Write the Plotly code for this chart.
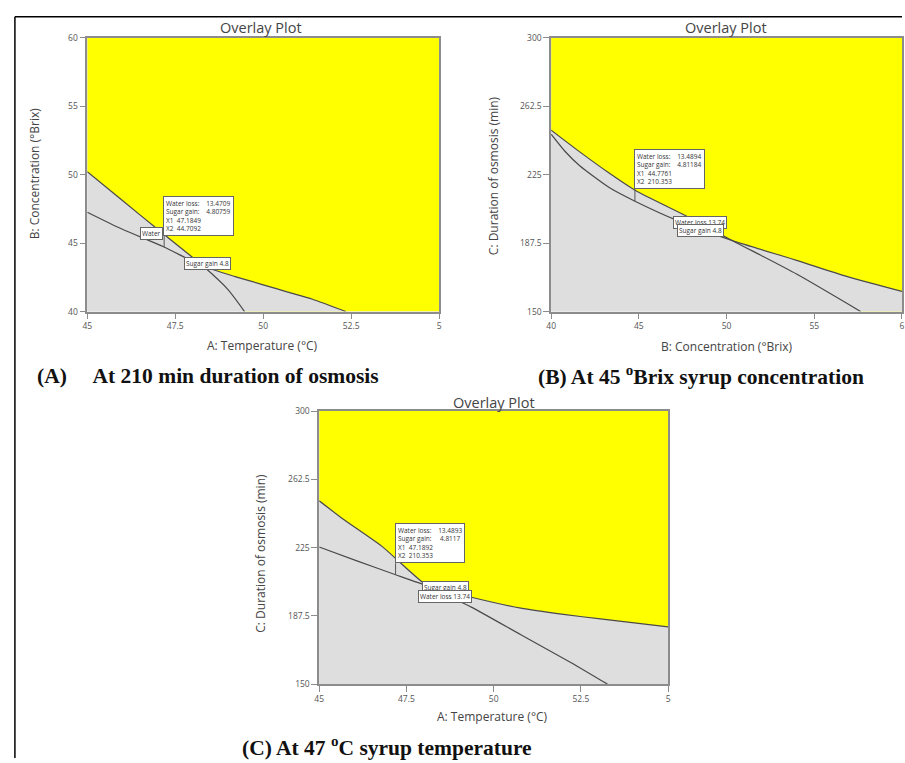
import plotly.graph_objects as go

W, H = 905, 763
FONT = "Open Sans"
SERIF = "Liberation Serif"
YELLOW = "#ffff00"
GRAY = "#dedede"
LINE = "#4a4a4a"
AXC = "#8c8c8c"

# ---------------- data ----------------
# Panel A : Temperature (x) vs Concentration (y), at 210 min
a_x_range = [45, 55]
a_y_range = [40, 60]
a_xticks = [45, 47.5, 50, 52.5, 55]
a_xticktext = ["45", "47.5", "50", "52.5", "5"]
a_yticks = [40, 45, 50, 55, 60]
a_sugar_x = [45, 46, 47, 48.3, 49, 49.47]
a_sugar_y = [50.2, 48.1, 46.0, 43.3, 41.6, 40.0]
a_water_x = [45, 46, 47.18, 48.3, 49.2, 50, 50.7, 51.4, 52.35]
a_water_y = [47.25, 46.0, 44.71, 43.3, 42.55, 41.95, 41.42, 40.9, 40.0]
a_point = (47.1849, 44.7092)
a_tip = ["Water loss:", "Sugar gain:", "X1", "X2"]
a_tipval = ["13.4709", "4.80759", "47.1849", "44.7092"]

# Panel B : Concentration (x) vs Duration (y), at 47 C
b_x_range = [40, 60]
b_y_range = [150, 300]
b_xticks = [40, 45, 50, 55, 60]
b_xticktext = ["40", "45", "50", "55", "6"]
b_yticks = [150, 187.5, 225, 262.5, 300]
b_sugar_x = [40, 41.63, 43.2, 44.78, 47.81, 50.34, 53.99, 57.64]
b_sugar_y = [249.3, 237.4, 226.5, 216.4, 201.8, 188.8, 170.5, 150.0]
b_water_x = [40, 40.8, 41.63, 43.31, 44.78, 47.25, 50.34, 53.99, 56.8, 60]
b_water_y = [247.1, 237.6, 229.8, 217.9, 210.4, 199.6, 188.8, 178.0, 169.4, 161.0]
b_point = (44.7761, 210.353)
b_tip = ["Water loss:", "Sugar gain:", "X1", "X2"]
b_tipval = ["13.4894", "4.81184", "44.7761", "210.353"]

# Panel C : Temperature (x) vs Duration (y), at 45 Brix
c_x_range = [45, 55]
c_y_range = [150, 300]
c_xticks = [45, 47.5, 50, 52.5, 55]
c_xticktext = ["45", "47.5", "50", "52.5", "5"]
c_yticks = [150, 187.5, 225, 262.5, 300]
c_sugar_x = [45, 45.66, 46.79, 48.08, 49.36, 50.78, 52.21, 53.26]
c_sugar_y = [250.7, 241.0, 225.8, 204.2, 192.3, 177.1, 161.9, 150.0]
c_water_x = [45, 46.08, 47.19, 48.08, 49.36, 50.78, 52.0, 53.06, 55]
c_water_y = [225.3, 217.7, 210.1, 204.2, 197.7, 191.7, 188.3, 185.8, 181.4]
c_point = (47.1892, 210.353)
c_tip = ["Water loss:", "Sugar gain:", "X1", "X2"]
c_tipval = ["13.4893", "4.8117", "47.1892", "210.353"]


def px(x):
    return x / W


def py(y):
    return 1 - y / H


fig = go.Figure()

panels = [
    dict(xa="x", ya="y", xr=a_x_range, yr=a_y_range,
         sx=a_sugar_x, sy=a_sugar_y, wx=a_water_x, wy=a_water_y),
    dict(xa="x2", ya="y2", xr=b_x_range, yr=b_y_range,
         sx=b_sugar_x, sy=b_sugar_y, wx=b_water_x, wy=b_water_y),
    dict(xa="x3", ya="y3", xr=c_x_range, yr=c_y_range,
         sx=c_sugar_x, sy=c_sugar_y, wx=c_water_x, wy=c_water_y),
]

for p in panels:
    x0, x1 = p["xr"]
    y0, y1 = p["yr"]
    # yellow region above sugar contour
    fig.add_trace(go.Scatter(
        x=p["sx"] + [x1, x1, x0], y=p["sy"] + [y0, y1, y1],
        fill="toself", fillcolor=YELLOW, mode="none", hoverinfo="skip",
        xaxis=p["xa"], yaxis=p["ya"], showlegend=False))
    # gray region below water contour
    fig.add_trace(go.Scatter(
        x=p["wx"] + [x1, x0], y=p["wy"] + [y0, y0],
        fill="toself", fillcolor=GRAY, mode="none", hoverinfo="skip",
        xaxis=p["xa"], yaxis=p["ya"], showlegend=False))
    for xs, ys in ((p["sx"], p["sy"]), (p["wx"], p["wy"])):
        fig.add_trace(go.Scatter(
            x=xs, y=ys, mode="lines",
            line=dict(color=LINE, width=1.2, shape="spline", smoothing=0.6),
            hoverinfo="skip", xaxis=p["xa"], yaxis=p["ya"], showlegend=False))

ax_common = dict(showgrid=False, zeroline=False, showline=True, linecolor=AXC,
                 linewidth=1.5, mirror=True, ticks="outside", ticklen=6,
                 tickcolor=AXC, tickwidth=1, ticklabeloverflow="allow",
                 tickfont=dict(size=8.5, color="#555555", family=FONT))

fig.update_layout(
    width=W, height=H, margin=dict(l=0, r=0, t=0, b=0),
    paper_bgcolor="white", plot_bgcolor=GRAY,
    xaxis=dict(domain=[px(83), px(438)], range=a_x_range, tickvals=a_xticks,
               ticktext=a_xticktext, anchor="y", **ax_common),
    yaxis=dict(domain=[py(310), py(32)], range=a_y_range, tickvals=a_yticks,
               anchor="x", **ax_common),
    xaxis2=dict(domain=[px(551), 1.0], range=b_x_range, tickvals=b_xticks,
                ticktext=b_xticktext, anchor="y2", **ax_common),
    yaxis2=dict(domain=[py(310), py(32)], range=b_y_range, tickvals=b_yticks,
                ticktext=[str(v) for v in b_yticks], anchor="x2", **ax_common),
    xaxis3=dict(domain=[px(317), px(669)], range=c_x_range, tickvals=c_xticks,
                ticktext=c_xticktext, anchor="y3", **ax_common),
    yaxis3=dict(domain=[py(688), py(411)], range=c_y_range, tickvals=c_yticks,
                ticktext=[str(v) for v in c_yticks], anchor="x3", **ax_common),
)

ann = []
shapes = []


def paper_text(text, x, y, size, color="#444444", family=FONT, angle=0,
               xanchor="center"):
    ann.append(dict(text=text, x=px(x), y=py(y), xref="paper", yref="paper",
                    showarrow=False, xanchor=xanchor, yanchor="middle",
                    textangle=angle, font=dict(size=size, color=color, family=family)))


# titles
for x, y in ((258, 22), (727, 22), (493, 402)):
    paper_text("Overlay Plot", x, y, 14.5, "#444444")
# axis titles
paper_text("A: Temperature (°C)", 260, 344, 12)
paper_text("B: Concentration (°Brix)", 728, 345, 12)
paper_text("A: Temperature (°C)", 492, 721, 12)
paper_text("B: Concentration (°Brix)", 30, 170, 12, angle=-90)
paper_text("C: Duration of osmosis (min)", 493, 172, 12, angle=-90)
paper_text("C: Duration of osmosis (min)", 258, 555, 12, angle=-90)
# captions
paper_text("<b>(A)\u00a0\u00a0\u00a0\u00a0 At 210 min duration of osmosis</b>", 30, 375, 21.5,
           "#111111", SERIF, xanchor="left")
paper_text("<b>(B) At 45 <sup>o</sup>Brix syrup concentration</b>", 702, 375, 21.5,
           "#111111", SERIF)
paper_text("<b>(C) At 47 <sup>o</sup>C syrup temperature</b>", 237, 751, 21.5,
           "#111111", SERIF, xanchor="left")

# tooltips
for (pt, labels, vals, xr, yr, yshift) in (
        (a_point, a_tip, a_tipval, "x", "y", 11),
        (b_point, b_tip, b_tipval, "x2", "y2", 12),
        (c_point, c_tip, c_tipval, "x3", "y3", 11)):
    lines = []
    for lab, v in zip(labels, vals):
        if lab.startswith("X"):
            lines.append(f"{lab}\u00a0\u00a0{v}")
        else:
            pad = "\u00a0" * (22 - len(lab) - len(v))
            lines.append(f"{lab}{pad}{v}")
    ann.append(dict(text="<br>".join(lines), x=pt[0], y=pt[1], xref=xr, yref=yr,
                    showarrow=False, xanchor="left", yanchor="bottom", align="left",
                    xshift=-1, yshift=yshift, bgcolor="white", bordercolor="#666666",
                    borderwidth=1, borderpad=2,
                    font=dict(size=6.5, color="#333333", family=FONT)))
    shapes.append(dict(type="line", xref=xr, yref=yr, xsizemode="pixel",
                       ysizemode="pixel", xanchor=pt[0], yanchor=pt[1],
                       x0=0, x1=0, y0=0, y1=yshift, line=dict(color="#555555", width=1)))

# contour labels
for text, x, y, xr, yr in (
        ("Water", 46.83, 45.67, "x", "y"),
        ("Sugar gain 4.8", 48.41, 43.47, "x", "y"),
        ("Water loss 13.74", 48.46, 198.8, "x2", "y2"),
        ("Sugar gain 4.8", 48.51, 194.2, "x2", "y2"),
        ("Sugar gain 4.8", 48.63, 202.8, "x3", "y3"),
        ("Water loss 13.74", 48.62, 197.9, "x3", "y3")):
    ann.append(dict(text=text, x=x, y=y, xref=xr, yref=yr, showarrow=False,
                    bgcolor="white", bordercolor="#666666", borderwidth=1, borderpad=1,
                    font=dict(size=6.5, color="#333333", family=FONT)))

# outer frame
shapes.append(dict(type="line", xref="paper", yref="paper", x0=px(10), x1=1,
                   y0=py(11), y1=py(11), line=dict(color="black", width=1.5)))
shapes.append(dict(type="line", xref="paper", yref="paper", x0=px(10), x1=px(10),
                   y0=0, y1=py(11), line=dict(color="black", width=1.5)))

fig.update_layout(annotations=ann, shapes=shapes)
post = ("document.documentElement.style.margin='0px';"
        "document.body.style.margin='0px';"
        "document.body.style.overflow='hidden';"
        "var gd=document.getElementById('{plot_id}');"
        "gd.style.position='fixed';gd.style.left='0px';gd.style.top='0px';")
fig.write_html("out.html", config={"displayModeBar": False}, post_script=post)
